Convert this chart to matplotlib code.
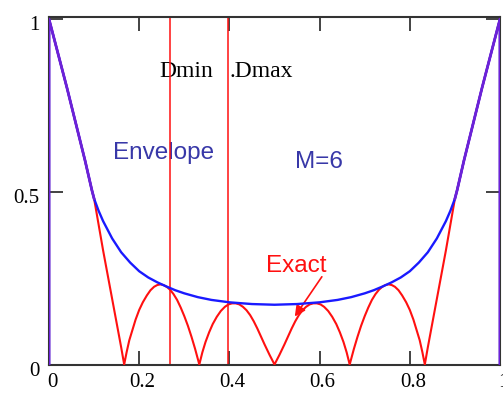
import matplotlib.pyplot as plt
import matplotlib.transforms as mtransforms
import numpy as np

# values
exact_x = [0.0, 0.0, 0.02, 0.04, 0.06, 0.08, 0.095, 0.10, 0.12, 0.14, 0.16, 0.1667,
           0.172, 0.178, 0.185, 0.192, 0.20, 0.208, 0.217, 0.225, 0.233, 0.240, 0.247,
           0.254, 0.261, 0.268, 0.276, 0.284, 0.292, 0.30, 0.308, 0.316, 0.324, 0.3333,
           0.34, 0.347, 0.355, 0.363, 0.372, 0.381, 0.39, 0.398, 0.406, 0.414, 0.422,
           0.430, 0.438, 0.446, 0.454, 0.462, 0.470, 0.478, 0.489, 0.50,
           0.511, 0.522, 0.530, 0.538, 0.546, 0.554, 0.562, 0.570, 0.578, 0.586, 0.594,
           0.602, 0.610, 0.619, 0.628, 0.637, 0.645, 0.653, 0.66, 0.6667,
           0.676, 0.684, 0.692, 0.70, 0.708, 0.716, 0.724, 0.732, 0.739, 0.746, 0.753,
           0.76, 0.767, 0.775, 0.783, 0.792, 0.80, 0.808, 0.815, 0.822, 0.828, 0.8333,
           0.84, 0.86, 0.88, 0.90, 0.905, 0.92, 0.94, 0.96, 0.98, 1.0, 1.0]
exact_y = [0.0, 1.0, 0.90, 0.80, 0.695, 0.59, 0.505, 0.48, 0.33, 0.19, 0.05, 0.0,
           0.035, 0.07, 0.10, 0.13, 0.158, 0.18, 0.20, 0.215, 0.225, 0.23, 0.232,
           0.23, 0.225, 0.217, 0.204, 0.187, 0.165, 0.14, 0.112, 0.08, 0.045, 0.0,
           0.035, 0.065, 0.093, 0.117, 0.138, 0.155, 0.167, 0.174, 0.177, 0.177, 0.174,
           0.167, 0.157, 0.143, 0.125, 0.104, 0.081, 0.058, 0.028, 0.0,
           0.028, 0.058, 0.081, 0.104, 0.125, 0.143, 0.157, 0.167, 0.174, 0.177, 0.177,
           0.174, 0.167, 0.155, 0.138, 0.117, 0.093, 0.065, 0.035, 0.0,
           0.045, 0.08, 0.112, 0.14, 0.165, 0.187, 0.204, 0.217, 0.225, 0.23, 0.232,
           0.23, 0.225, 0.215, 0.20, 0.18, 0.158, 0.13, 0.10, 0.07, 0.035, 0.0,
           0.05, 0.19, 0.33, 0.48, 0.505, 0.59, 0.695, 0.80, 0.90, 1.0, 0.0]

env_x = [0.0, 0.0, 0.02, 0.04, 0.06, 0.08, 0.095, 0.10, 0.11, 0.12, 0.14, 0.16, 0.18,
         0.20, 0.22, 0.24, 0.26, 0.28, 0.30, 0.33, 0.36, 0.40, 0.45, 0.50, 0.55, 0.60,
         0.64, 0.67, 0.70, 0.72, 0.74, 0.76, 0.78, 0.80, 0.82, 0.84, 0.86, 0.88, 0.89,
         0.90, 0.905, 0.92, 0.94, 0.96, 0.98, 1.0, 1.0]
env_y = [0.0, 1.0, 0.90, 0.80, 0.695, 0.59, 0.505, 0.48, 0.445, 0.415, 0.365, 0.325, 0.295,
         0.27, 0.252, 0.238, 0.226, 0.215, 0.206, 0.195, 0.187, 0.18, 0.175, 0.173, 0.175,
         0.18, 0.187, 0.195, 0.206, 0.215, 0.226, 0.238, 0.252, 0.27, 0.295, 0.325, 0.365,
         0.415, 0.445, 0.48, 0.505, 0.59, 0.695, 0.80, 0.90, 1.0, 0.0]

d_min = 0.268
d_max = 0.398

x_ticks = [0, 0.2, 0.4, 0.6, 0.8, 1]
x_labels = ['0', '0.2', '0.4', '0.6', '0.8', '1']
y_ticks = [0, 0.5, 1]
y_labels = ['0', '0.5', '1']

fig = plt.figure(figsize=(5.03, 3.94), dpi=100)
ax = fig.add_axes([49/503, 1 - 364.5/394, 451/503, 347.5/394])

red = '#ff1010'
blue = '#1a1aff'
purple = '#6c22d8'

ax.plot(exact_x, exact_y, color=red, lw=1.5, zorder=3)
ax.plot(env_x, env_y, color=blue, lw=1.7, zorder=4)

# where both traces lie on top of each other the picture shows them purple
ex = np.array(env_x)
ey = np.array(env_y)
lo = ex <= 0.10
hi = ex >= 0.90
ax.plot(ex[lo], ey[lo], color=purple, lw=2.0, zorder=5)
ax.plot(ex[hi], ey[hi], color=purple, lw=2.0, zorder=5)

ax.axvline(d_min, color=red, lw=1.1, zorder=2)
ax.axvline(d_max, color=red, lw=1.1, zorder=2)

ax.set_xlim(0, 1)
ax.set_ylim(0, 1.006)

ax.set_xticks(x_ticks)
ax.set_xticklabels(x_labels)
ax.set_yticks(y_ticks)
ax.set_yticklabels(y_labels)
ax.tick_params(direction='in', length=10, width=1.2, color='#222222',
               top=True, right=True, labelsize=15)
ax.tick_params(axis='x', pad=6)
ax.tick_params(axis='y', pad=7)
for lab in ax.get_xticklabels() + ax.get_yticklabels():
    lab.set_family('Liberation Serif')
off_x = mtransforms.ScaledTranslation(0.03, 0, fig.dpi_scale_trans)
off_y = mtransforms.ScaledTranslation(0, -0.04, fig.dpi_scale_trans)
for lab in ax.get_xticklabels():
    lab.set_transform(lab.get_transform() + off_x)
for lab in ax.get_yticklabels():
    lab.set_transform(lab.get_transform() + off_y)

for s in ax.spines.values():
    s.set_linewidth(1.5)
    s.set_color('#333333')

ax.text(0.304, 0.847, 'Dmin', family='Liberation Serif', fontsize=17,
        ha='center', va='center', zorder=1)
ax.text(0.470, 0.847, '.Dmax', family='Liberation Serif', fontsize=17,
        ha='center', va='center', zorder=1)
ax.text(0.255, 0.612, 'Envelope', family='Liberation Sans', fontsize=17.5,
        color='#3838a8', ha='center', va='center', zorder=1)
ax.text(0.599, 0.586, 'M=6', family='Liberation Sans', fontsize=17.5,
        color='#3838a8', ha='center', va='center')
ax.text(0.548, 0.285, 'Exact', family='Liberation Sans', fontsize=17.5,
        color=red, ha='center', va='center')
ax.annotate('', xy=(0.545, 0.139), xytext=(0.605, 0.254),
            arrowprops=dict(arrowstyle='-|>', color=red, lw=1.2,
                            mutation_scale=16, shrinkA=0, shrinkB=0))

fig.savefig('out.png', dpi=100)
